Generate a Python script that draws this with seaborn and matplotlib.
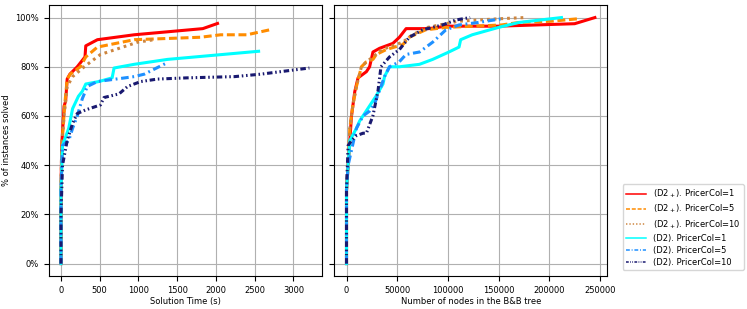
import matplotlib
matplotlib.use("Agg")
import matplotlib.pyplot as plt
import pandas as pd
import seaborn as sns
from matplotlib.ticker import PercentFormatter

# labels / styles
labels = ["(D2$_+$). PricerCol=1", "(D2$_+$). PricerCol=5", "(D2$_+$). PricerCol=10",
          "(D2). PricerCol=1", "(D2). PricerCol=5", "(D2). PricerCol=10"]
colors = ["red", "darkorange", "peru", "cyan", "dodgerblue", "midnightblue"]
styles = ["-", (0, (2.6, 1.2)), (0, (0.9, 1.3)), "-", (0, (2.5, 1.2, 0.6, 1.2)),
          (0, (1.8, 0.9, 0.5, 0.9, 0.5, 0.9))]

# solution time (s) vs % solved
time_x = [
    [0, 0, 10, 40, 60, 80, 115, 210, 310, 320, 470, 945, 1830, 2020],
    [0, 0, 15, 50, 80, 120, 250, 320, 470, 945, 1800, 2060, 2400, 2690],
    [0, 0, 10, 40, 80, 150, 300, 510, 990, 1200],
    [0, 0, 20, 100, 150, 225, 275, 320, 490, 660, 685, 945, 1375, 2550],
    [0, 0, 20, 100, 150, 210, 275, 340, 470, 945, 1075, 1360],
    [0, 0, 20, 80, 150, 210, 320, 510, 555, 750, 860, 1030, 1245, 1630, 2240, 2580, 3205],
]
time_y = [
    [0, 30, 48, 64, 66, 75, 77, 80, 84, 88.5, 91, 93, 95.5, 97.6],
    [0, 30, 50, 65, 75, 77, 80, 84, 88, 91, 92, 93, 93, 95],
    [0, 30, 48, 60, 72, 76, 80, 85, 90, 91],
    [0, 30, 48, 55, 63, 68, 70, 73, 74, 75.5, 79.5, 81, 83, 86.3],
    [0, 30, 48, 50, 55, 60, 67, 72, 74, 76, 77, 81.5],
    [0, 20, 40, 50, 57, 61, 62.5, 64.5, 67.5, 69, 72, 74, 75, 75.5, 76, 77, 79.5],
]

# B&B nodes vs % solved
node_x = [
    [0, 0, 1600, 3300, 4900, 8200, 11400, 19600, 22800, 26100, 32600, 45700, 52200, 58800,
     81600, 98000, 150000, 225000, 245000],
    [0, 0, 1600, 3300, 6500, 9800, 14700, 19600, 26100, 29400, 39200, 55500, 62000, 78000,
     98000, 153000, 170000, 202000, 228000],
    [0, 0, 1600, 3300, 6500, 9800, 14700, 19600, 26100, 35000, 55500, 65000, 80000, 110000,
     150000, 176000],
    [0, 0, 1600, 3300, 9800, 13000, 21000, 29000, 36000, 37500, 42400, 52200, 72000, 85000,
     101000, 111000, 112600, 124000, 150000, 170000, 212000],
    [0, 0, 1600, 9800, 16300, 22800, 27700, 34000, 37500, 42400, 52000, 58700, 72000, 85000,
     98000, 111000, 130000, 153000],
    [0, 0, 1600, 4900, 9800, 16300, 19600, 26000, 31000, 34000, 42400, 52200, 62000, 75000,
     94700, 107700, 122000],
]
node_y = [
    [0, 30, 40, 50, 60, 70, 75.5, 78, 80, 86, 87.5, 89.5, 92, 95.5,
     95.5, 96.5, 96.5, 97.5, 100],
    [0, 30, 40, 55, 65, 72, 80, 82, 83, 85, 87, 89, 92, 95,
     96, 97, 98, 98.5, 99.5],
    [0, 30, 40, 55, 65, 72, 80, 82, 84, 87, 90, 93, 96, 98.5,
     99.5, 100],
    [0, 30, 40, 50, 55, 58, 63, 68, 73, 76, 80, 80, 81, 83,
     86, 88, 91, 93, 96, 98, 100],
    [0, 30, 40, 55, 60, 62, 65, 72, 76, 80, 82, 85, 86, 90,
     95, 97, 98, 99.5],
    [0, 30, 48, 50, 52, 53, 53, 60, 70, 80, 84, 87, 92, 95,
     97, 99, 100],
]

plt.rcParams["font.size"] = 6

fig, axes = plt.subplots(1, 2, figsize=(7.47, 3.09), sharey=True)
fig.subplots_adjust(left=0.065, right=0.813, top=0.983, bottom=0.107, wspace=0.045)

for ax, xs, ys in [(axes[0], time_x, time_y), (axes[1], node_x, node_y)]:
    for i in range(6):
        df = pd.DataFrame({"x": xs[i], "y": ys[i]})
        sns.lineplot(data=df, x="x", y="y", ax=ax, sort=False, estimator=None,
                     color=colors[i], label=labels[i])
    # set width and dash after seaborn so nothing overrides them
    for i, line in enumerate(ax.get_lines()[:6]):
        line.set_linewidth(2.2)
        line.set_linestyle(styles[i])
    ax.grid(True)
    ax.get_legend().remove()
    ax.yaxis.set_major_formatter(PercentFormatter(decimals=0))
    ax.set_yticks([0, 20, 40, 60, 80, 100])

axes[0].set_xlabel("Solution Time (s)", labelpad=2)
axes[0].set_ylabel("% of instances solved", labelpad=3)
axes[1].set_xlabel("Number of nodes in the B&B tree", labelpad=2)
axes[1].set_ylabel("")
axes[1].tick_params(labelleft=False)

handles = [plt.Line2D([], [], color=colors[i], linestyle=styles[i], linewidth=1.1)
           for i in range(6)]
fig.legend(handles, labels, loc="center left", bbox_to_anchor=(0.828, 0.265), fontsize=6,
           handlelength=2.4, labelspacing=0.35, borderpad=0.4)

fig.savefig("out.png", dpi=100)
